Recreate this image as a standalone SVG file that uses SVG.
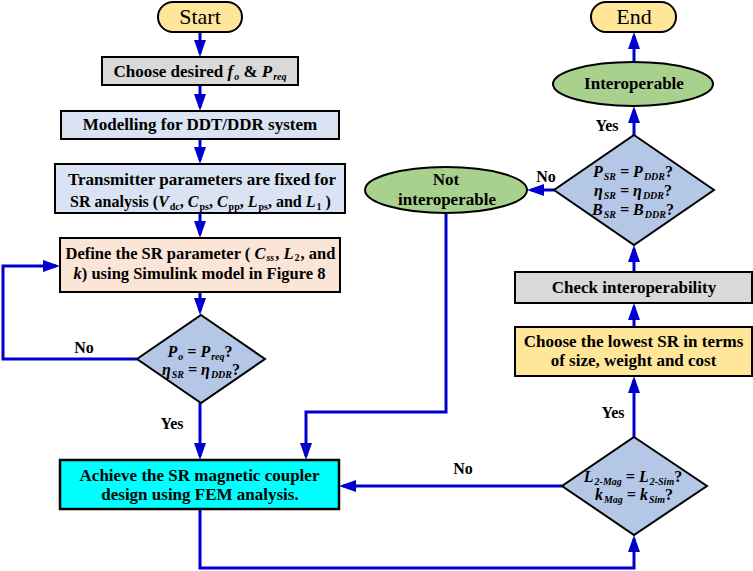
<svg xmlns="http://www.w3.org/2000/svg" width="753" height="571" viewBox="0 0 753 571">
<style>
.bx{stroke:#000;stroke-width:2}
.t{font-family:"Liberation Serif","DejaVu Serif",serif;font-weight:bold;font-size:17px;fill:#000;text-anchor:middle}
.r{font-weight:normal;font-size:22px}
.d{font-size:16px;font-style:italic}
.m{font-size:16.5px}
.lb{font-family:"Liberation Serif","DejaVu Serif",serif;font-weight:bold;font-size:16px;fill:#000;text-anchor:middle}
.i{font-style:italic}
.n{font-style:normal}
.s{font-size:10px}
.c{fill:none;stroke:#0000CD;stroke-width:3;marker-end:url(#ah)}
</style>
<defs>
<marker id="ah" markerUnits="userSpaceOnUse" markerWidth="18" markerHeight="12" refX="13" refY="6" orient="auto" viewBox="0 0 18 12"><path d="M0,0 L17,6 L0,12 z" fill="#0000CD"/></marker>
</defs>
<g id="connectors">
<path class="c" d="M200,32 V53"/>
<path class="c" d="M200,85 V107"/>
<path class="c" d="M200,139 V160"/>
<path class="c" d="M200,213 V234"/>
<path class="c" d="M200,292 V311"/>
<path class="c" d="M137,359 H3 V266 H56"/>
<path class="c" d="M200,403 V456"/>
<path class="c" d="M446,213 V412 H306 V456"/>
<path class="c" d="M200,509 V568 H634 V539"/>
<path class="c" d="M562,486 H343"/>
<path class="c" d="M634,437 V380"/>
<path class="c" d="M634,327 V307"/>
<path class="c" d="M634,272 V249"/>
<path class="c" d="M634,135 V110"/>
<path class="c" d="M554,190 H531"/>
<path class="c" d="M634,62 V36"/>
<text class="lb" x="84" y="353">No</text>
<text class="lb" x="172" y="429">Yes</text>
<text class="lb" x="463" y="474">No</text>
<text class="lb" x="613" y="418">Yes</text>
<text class="lb" x="607" y="131">Yes</text>
<text class="lb" x="546" y="182">No</text>
</g>
<g id="start">
<rect class="bx" x="158" y="2" width="84" height="30" rx="15" fill="#FFE699"/>
<text class="t r" x="200" y="24">Start</text>
</g>
<g id="choose-f">
<rect class="bx" x="102" y="57" width="196" height="28" fill="#D9D9D9"/>
<text class="t" x="200" y="77">Choose desired <tspan class="i">f</tspan><tspan class="i s" dx="1" dy="3">o</tspan><tspan dy="-3"> &amp; </tspan><tspan class="i">P</tspan><tspan class="i s" dx="1" dy="3">req</tspan></text>
</g>
<g id="modelling">
<rect class="bx" x="61" y="111" width="278" height="28" fill="#DAE3F3"/>
<text class="t" x="200" y="130">Modelling for DDT/DDR system</text>
</g>
<g id="transmitter">
<rect class="bx" x="55" y="164" width="290" height="49" fill="#DAE3F3"/>
<text class="t" x="202" y="185">Transmitter parameters are fixed for</text>
<text class="t" x="200.5" y="207" style="font-size:16px">SR analysis (<tspan class="i">V</tspan><tspan class="s" dx="1" dy="3">dc</tspan><tspan dy="-3">, </tspan><tspan class="i">C</tspan><tspan class="s" dx="1" dy="3">ps</tspan><tspan dy="-3">, </tspan><tspan class="i">C</tspan><tspan class="s" dx="1" dy="3">pp</tspan><tspan dy="-3">, </tspan><tspan class="i">L</tspan><tspan class="s" dx="1" dy="3">ps</tspan><tspan dy="-3">, and </tspan><tspan class="i">L</tspan><tspan class="s" dx="1" dy="3">1</tspan><tspan dy="-3"> )</tspan></text>
</g>
<g id="define">
<rect class="bx" x="60" y="238" width="280" height="54" fill="#FBE5D6"/>
<text class="t m" x="200.5" y="259">Define the SR parameter ( <tspan class="i">C</tspan><tspan class="i s" dx="1" dy="2">ss</tspan><tspan dx="1" dy="-2">, </tspan><tspan class="i">L</tspan><tspan class="s" dx="1" dy="2">2</tspan><tspan dx="1" dy="-2">, and</tspan></text>
<text class="t m" x="199.5" y="279"><tspan class="i">k</tspan>) using Simulink model in Figure 8</text>
</g>
<g id="decision-power">
<polygon class="bx" points="201,315 265,359 201,403 137,359" fill="#B4C7E7"/>
<text class="t d" x="200" y="357">P<tspan class="s" dx="1" dy="3">o</tspan><tspan dy="-3"> = P</tspan><tspan class="s" dx="1" dy="3">req</tspan><tspan class="n" dy="-3">?</tspan></text>
<text class="t d" x="201" y="375">η<tspan class="s" dx="1" dy="3">SR</tspan><tspan dy="-3"> = η</tspan><tspan class="s" dx="1" dy="3">DDR</tspan><tspan class="n" dy="-3">?</tspan></text>
</g>
<g id="achieve">
<rect x="60" y="460" width="279" height="49" fill="#00FFFF" stroke="#000" stroke-width="2.5"/>
<text class="t" x="199.5" y="481">Achieve the SR magnetic coupler</text>
<text class="t" x="200" y="500">design using FEM analysis.</text>
</g>
<g id="decision-coupler">
<polygon class="bx" points="634,437 707,486 634,535 562,486" fill="#B4C7E7"/>
<text class="t d" x="633" y="482">L<tspan class="s" dx="1" dy="3">2-Mag</tspan><tspan dy="-3"> = L</tspan><tspan class="s" dx="1" dy="3">2-Sim</tspan><tspan class="n" dy="-3">?</tspan></text>
<text class="t d" x="634" y="500">k<tspan class="s" dx="1" dy="3">Mag</tspan><tspan dy="-3"> = k</tspan><tspan class="s" dx="1" dy="3">Sim</tspan><tspan class="n" dy="-3">?</tspan></text>
</g>
<g id="choose-lowest">
<rect class="bx" x="515" y="327" width="237" height="49" fill="#FFE699"/>
<text class="t" x="633.5" y="347">Choose the lowest SR in terms</text>
<text class="t" x="633.5" y="366">of size, weight and cost</text>
</g>
<g id="check">
<rect class="bx" x="515" y="272" width="237" height="31" fill="#D9D9D9"/>
<text class="t" x="634" y="293">Check interoperability</text>
</g>
<g id="decision-interop">
<polygon class="bx" points="634,135 714,190 634,245 554,190" fill="#B4C7E7"/>
<text class="t d" x="633" y="177">P<tspan class="s" dx="1" dy="3">SR</tspan><tspan dy="-3"> = P</tspan><tspan class="s" dx="1" dy="3">DDR</tspan><tspan class="n" dy="-3">?</tspan></text>
<text class="t d" x="633" y="196">η<tspan class="s" dx="1" dy="3">SR</tspan><tspan dy="-3"> = η</tspan><tspan class="s" dx="1" dy="3">DDR</tspan><tspan class="n" dy="-3">?</tspan></text>
<text class="t d" x="633" y="215">B<tspan class="s" dx="1" dy="3">SR</tspan><tspan dy="-3"> = B</tspan><tspan class="s" dx="1" dy="3">DDR</tspan><tspan class="n" dy="-3">?</tspan></text>
</g>
<g id="not-interoperable">
<ellipse class="bx" cx="446" cy="190" rx="81" ry="23" fill="#A9D18E"/>
<text class="t" x="446" y="185">Not</text>
<text class="t" x="447" y="205">interoperable</text>
</g>
<g id="interoperable">
<ellipse class="bx" cx="633" cy="84" rx="80" ry="22" fill="#A9D18E"/>
<text class="t" x="634" y="89">Interoperable</text>
</g>
<g id="end">
<rect class="bx" x="591" y="2" width="85" height="30" rx="15" fill="#FFE699"/>
<text class="t r" x="634" y="24">End</text>
</g>
</svg>
